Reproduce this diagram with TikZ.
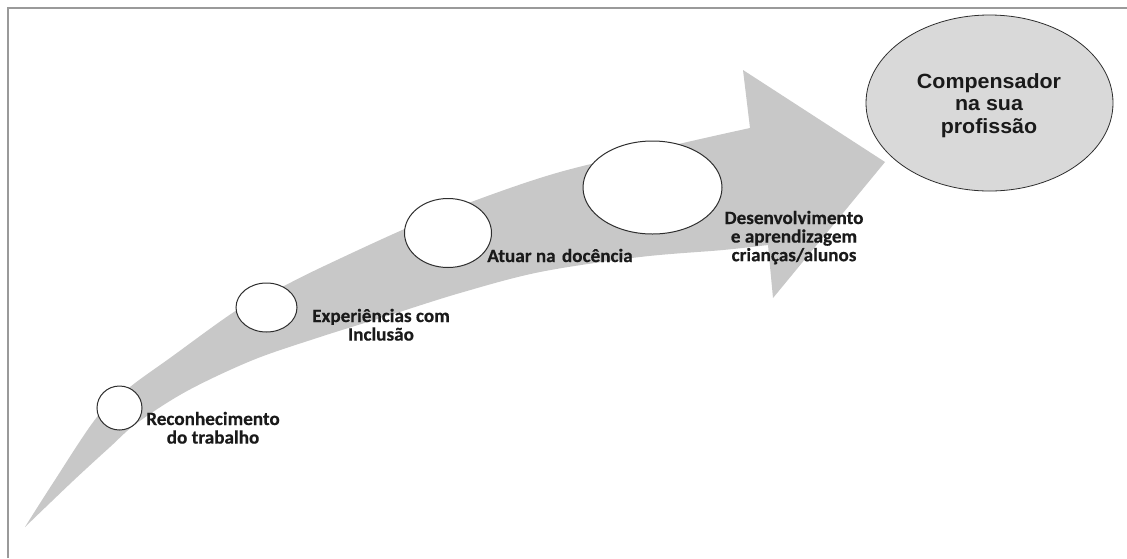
\documentclass[tikz,border=0pt]{standalone}
\usepackage{fontspec}
\usetikzlibrary{shapes.geometric}
\newfontfamily\labfont[FakeStretch=1.02,FakeBold=0.4]{Carlito}
\newfontfamily\bigfont[FakeStretch=1.04]{Liberation Sans}
\definecolor{bandgray}{HTML}{C8C8C8}
\definecolor{goalgray}{HTML}{D9D9D9}
\definecolor{framegray}{HTML}{9A9A9A}
\definecolor{circline}{HTML}{2E2E2E}
\definecolor{txt}{HTML}{1A1A1A}
\tikzset{
  circ/.style={ellipse, draw=circline, line width=1pt, fill=white, inner sep=0pt},
  lab/.style={font=\labfont\bfseries\fontsize{18.8}{18}\selectfont, text=txt, inner sep=0pt, anchor=base},
  goallab/.style={font=\bigfont\bfseries\fontsize{20.6}{22.5}\selectfont, text=txt, inner sep=0pt, anchor=base}
}
\begin{document}
\begin{tikzpicture}[x=1pt,y=-1pt]
\useasboundingbox (0,0) rectangle (1127,558);
\fill[white] (0,0) rectangle (1127,558);
% frame
\draw[framegray, line width=1.3pt] (8,558) -- (8,8) -- (1127,8);
% curved arrow
\fill[bandgray] plot[smooth, tension=0.55] coordinates {(25,527) (53,483) (97,417) (130,387) (170,358) (237,310) (280,288) (320,268) (400,231) (463,205) (560,172) (683,143) (750,128)}
  -- (743,70) -- (885,162) -- (773,298) -- (768,245)
  -- plot[smooth, tension=0.55] coordinates {(768,245) (723,250) (640,257) (540,272) (460,293) (387,316) (320,337) (253,360) (187,391) (137,423) (110,447) (73,481) (25,527)} -- cycle;
% circles
\node[circ, minimum width=45pt, minimum height=44pt] (c1) at (119.5,408) {};
\node[circ, minimum width=61pt, minimum height=49pt] (c2) at (266.5,307.5) {};
\node[circ, minimum width=87pt, minimum height=69pt] (c3) at (448,233) {};
\node[circ, minimum width=139pt, minimum height=93pt] (c4) at (652.5,187.5) {};
\node[ellipse, draw=circline, line width=0.8pt, fill=goalgray, inner sep=0pt, minimum width=247pt, minimum height=176pt] (goal) at (989.5,103) {};
% labels
\node[lab] (l1) at (213,425) {\begin{tabular}[t]{@{}c@{}}Reconhecimento\\do trabalho\end{tabular}};
\node[lab] (l2) at (381,322) {\begin{tabular}[t]{@{}c@{}}Experiências com\\Inclusão\end{tabular}};
\node[lab] (l3) at (560,262) {Atuar na\,\,docência};
\node[lab] (l4) at (794,224) {\begin{tabular}[t]{@{}c@{}}Desenvolvimento\\e aprendizagem\\crianças/alunos\end{tabular}};
\node[goallab] (gt) at (989,88) {\begin{tabular}[t]{@{}c@{}}Compensador\\na sua\\profissão\end{tabular}};
\end{tikzpicture}
\end{document}
